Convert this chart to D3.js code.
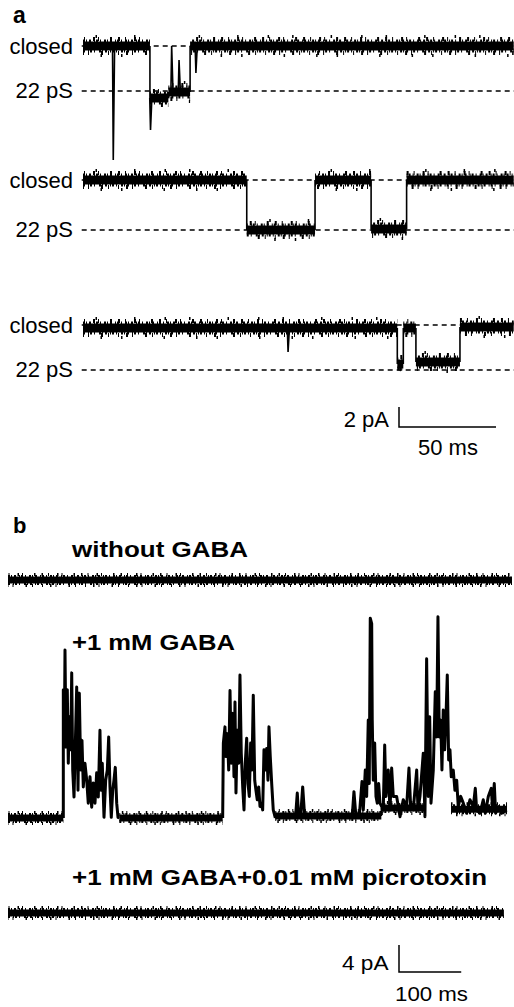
<!DOCTYPE html>
<html>
<head>
<meta charset="utf-8">
<script src="https://cdn.jsdelivr.net/npm/d3@7"></script>
<style>
  body { margin: 0; background: #fff; }
  svg { display: block; font-family: "Liberation Sans", Arial, sans-serif; }
</style>
</head>
<body>
<svg id="chart" width="514" height="1007"></svg>
<script>
// ---- panel a: single-channel records, time in ms, current in pA (closed = 0)
const aLevelLabels = ["closed", "22 pS"];
const aClosedLevel = 0;
const aOpenLevels = [-4.5, -5.0, -4.5];          // the 22 pS line of each record
const aSegments = [                              // [start ms, end ms, level pA]
  [[0, 34.5, 0], [34.5, 44, -5.2], [44, 55.2, -4.6], [55.2, 222, 0]],
  [[0, 84.4, 0], [84.4, 119.6, -5.0], [119.6, 148.5, 0], [148.5, 166.8, -4.9], [166.8, 222, 0]],
  [[0, 162, -0.3], [162, 165.1, -3.9], [165.1, 171.6, -0.3], [171.6, 194.3, -3.7], [194.3, 222, -0.2]]
];
const aSpikes = [                                // [time ms, from pA, to pA]
  [[15.6, 0, -11.4], [34.8, -5.2, -8.4], [45.7, -4.6, 0], [49.5, -4.6, -1.4], [58.2, 0, -2.7]],
  [],
  [[105.7, -0.3, -2.7], [163.5, -3.9, -4.6]]
];
const aScaleBar = { pA: 2, ms: 50 };

// ---- panel b: whole-patch records, time in ms, current in pA (baseline = 0)
const bLabels = ["without GABA", "+1 mM GABA", "+1 mM GABA+0.01 mM picrotoxin"];
const bSegments = [
  [[0, 810, 0]],
  [[0, 88.9, 0], [178.9, 345, 0], [429.6, 600, 0.3], [600, 670, 1.5], [712, 802, 1.3]],
  [[0, 797, 0]]
];
const burst1 = [[88.9,0],[88.9,19.0],[90.5,11.1],[91.6,24.9],[93.2,10.5],[95.3,19.0],[96.9,8.1],[98.5,15.0],[100.8,10.1],[102.4,21.5],[104.0,7.1],[106.1,3.1],[107.7,9.0],[110.4,19.4],[112.5,4.1],[114.6,18.5],[116.8,7.1],[118.9,11.5],[121.0,4.6],[123.7,8.1],[126.5,5.6],[129.0,2.2],[131.8,6.1],[134.5,1.6],[137.1,5.2],[139.8,2.2],[142.5,6.7],[145.1,3.1],[147.8,13.0],[149.5,4.1],[151.5,8.1],[154.3,0.1],[157.0,5.6],[159.6,7.1],[161.8,12.0],[163.9,4.6],[166.0,0.1],[168.3,4.1],[170.3,5.6],[172.4,7.5],[174.7,2.2],[176.8,0.1],[178.9,0]];
const burst2 = [[345.0,0],[346.1,11.1],[348.7,13.5],[350.3,9.1],[352.5,12.5],[354.7,7.1],[356.8,18.9],[358.9,8.1],[361.1,15.5],[363.2,6.1],[364.8,17.2],[366.4,3.7],[368.5,13.0],[370.7,8.1],[372.8,21.2],[374.9,9.6],[377.2,4.6],[379.3,1.2],[381.3,8.1],[383.6,11.8],[385.7,5.1],[387.8,3.2],[390.0,11.1],[392.1,7.1],[394.2,18.2],[396.5,5.6],[398.5,4.1],[400.6,2.7],[402.9,4.6],[405.0,1.7],[407.1,2.2],[409.3,1.2],[411.4,10.1],[413.5,7.1],[415.7,10.3],[417.8,5.6],[419.4,13.5],[421.5,9.1],[423.8,5.1],[426.3,1.2],[429.6,0]];
const burst2b = [[462,0],[464.9,3.7],[467.2,0.2],[470.5,0.5],[473.6,4.6],[476.8,0.2],[480,0]];
const burst3 = [[553,0],[556.0,3.9],[559.2,0.2],[565,0.8],[568.9,5.4],[571.0,1.2],[574.2,7.1],[576.4,3.2],[579.0,14.5],[580.6,5.1],[582.2,29.6],[584.5,28.8],[585.4,14.5],[587.0,5.6],[589.3,11.1],[591.4,3.2],[593.5,2.2],[595.7,5.1],[597.8,2.2],[603.1,1.2],[605.4,10.8],[607.4,3.2],[611.1,7.1],[613.9,1.2],[616.6,7.4],[619.2,3.2],[624.6,3.2],[630.0,0.2],[635.2,2.7],[640.7,1.7],[644.4,7.4],[647.1,1.7],[651.3,1.2],[656.8,7.1],[658.9,1.2],[662.1,3.2],[667.4,9.6],[670.1,0.2],[672.8,23.6],[675.4,3.2],[677.7,15.0],[679.8,2.2],[683.5,7.1],[686.7,18.7],[688.9,12.0],[691.0,29.8],[693.1,12.0],[695.4,14.5],[697.4,7.1],[699.5,16.0],[701.8,10.1],[703.9,15.0],[706.0,21.2],[708.2,8.6],[710.3,10.1],[712.4,6.1],[715.6,7.1],[718.3,4.1],[721.1,5.6],[723.6,1.7],[727.5,3.2],[731.7,2.2],[737.1,0.7],[742.4,2.7],[747.8,1.7],[751.0,4.4],[753.2,1.2],[758.5,0.7],[763.8,2.7],[767.1,0.7],[771.9,3.2],[776.7,4.4],[778.9,1.2],[781.5,5.1],[783.7,0.7],[787.9,1.7],[793.4,0.7],[801.4,1.2]];
const bBursts = [[], [burst1, burst2, burst2b, burst3], []];
const bScaleBar = { pA: 4, ms: 100 };

// layout
const aRowY = [46, 180, 325];      // pixel y of the closed level in each record
const bRowY = [580, 818, 913];     // pixel y of the baseline in each record
const bLabelY = [556.5, 650, 885];
const bLabelW = [176, 163, 415];

const svg = d3.select("#chart");

// noise texture: a solid core plus irregular dashed fringes
const aNoise = { core: 9, ticks: [
  { dy: -4.5, w: 4, dash: "2 1 1 2 2 3 1 1 2 2 1 3" },
  { dy: 4.5, w: 4, dash: "1 2 2 3 1 1 2 2 1 4 2 1" },
  { dy: -7, w: 4, dash: "2 5 1 8 2 3 1 11 2 6" },
  { dy: 7, w: 4, dash: "1 7 2 4 1 12 2 5 1 9" },
  { dy: -9.5, w: 3, dash: "1.5 23 1.5 37 1.5 29" },
  { dy: 9.5, w: 3, dash: "1.5 31 1.5 19 1.5 41" }
]};
const bNoise = { core: 7, ticks: [
  { dy: -3.5, w: 3, dash: "2 1 1 2 2 3 1 1 2 2 1 3" },
  { dy: 3.5, w: 3, dash: "1 2 2 3 1 1 2 2 1 4 2 1" },
  { dy: -5.5, w: 3, dash: "1.5 5 1 8 1.5 3 1 11 1.5 6" },
  { dy: 5.5, w: 3, dash: "1 7 1.5 4 1 12 1.5 5 1 9" }
]};

function drawBand(g, x0, x1, yy, noise, k) {
  g.append("line")
    .attr("x1", x0).attr("x2", x1).attr("y1", yy).attr("y2", yy)
    .attr("stroke", "#000").attr("stroke-width", noise.core);
  noise.ticks.forEach((t, i) => {
    g.append("line")
      .attr("x1", x0).attr("x2", x1).attr("y1", yy + t.dy).attr("y2", yy + t.dy)
      .attr("stroke", "#000").attr("stroke-width", t.w)
      .attr("stroke-dasharray", t.dash)
      .attr("stroke-dashoffset", (k * 7 + i * 3) % 17);
  });
}

function drawTrace(g, segs, x, y, noise) {
  segs.forEach((s, i) => {
    drawBand(g, x(s[0]), x(s[1]), y(s[2]), noise, i);
    const next = segs[i + 1];
    if (next && next[0] === s[1]) {
      g.append("line")
        .attr("x1", x(s[1])).attr("x2", x(s[1]))
        .attr("y1", y(s[2])).attr("y2", y(next[2]))
        .attr("stroke", "#000").attr("stroke-width", 1.6);
    }
  });
}

// ---------------- panel a
const aX = d3.scaleLinear().domain([0, 222]).range([83, 513.7]);

svg.append("text").attr("x", 13).attr("y", 23)
  .attr("font-size", 23).attr("font-weight", "bold").text("a");

aRowY.forEach((rowY, r) => {
  const y = d3.scaleLinear().domain([0, -1]).range([rowY, rowY + 10]);
  const g = svg.append("g");
  const levels = [aClosedLevel, aOpenLevels[r]];

  levels.forEach((lv, i) => {
    g.append("line")
      .attr("x1", 81.7).attr("x2", 514).attr("y1", y(lv)).attr("y2", y(lv))
      .attr("stroke", "#000").attr("stroke-width", 1.3)
      .attr("stroke-dasharray", "5 4");
    g.append("text")
      .attr("x", 73).attr("y", y(lv)).attr("dy", i === 0 ? "0.36em" : "0.3em")
      .attr("text-anchor", "end").attr("font-size", 22)
      .text(aLevelLabels[i]);
  });

  drawTrace(g, aSegments[r], aX, y, aNoise);

  aSpikes[r].forEach(s => {
    g.append("path")
      .attr("d", d3.line()([[aX(s[0] - 0.4), y(s[1])], [aX(s[0]), y(s[2])], [aX(s[0] + 0.7), y(s[1])]]))
      .attr("fill", "none").attr("stroke", "#000").attr("stroke-width", 1.6);
  });
});

// scale bar a
{
  const y = d3.scaleLinear().domain([0, 1]).range([0, 10]);
  const ox = 399, oy = 427;
  const len = aX(aScaleBar.ms) - aX(0);
  svg.append("path")
    .attr("d", `M${ox},${oy - y(aScaleBar.pA)}V${oy}H${ox + len}`)
    .attr("fill", "none").attr("stroke", "#000").attr("stroke-width", 1.5);
  svg.append("text").attr("x", 389).attr("y", 426.5).attr("text-anchor", "end")
    .attr("font-size", 22).text(aScaleBar.pA + " pA");
  svg.append("text").attr("x", 418).attr("y", 455)
    .attr("font-size", 22).text(aScaleBar.ms + " ms");
}

// ---------------- panel b
const bX = d3.scaleLinear().domain([0, 810]).range([8, 512]);

svg.append("text").attr("x", 13).attr("y", 532.5)
  .attr("font-size", 22).attr("font-weight", "bold").text("b");

bRowY.forEach((rowY, r) => {
  const y = d3.scaleLinear().domain([0, 1]).range([rowY, rowY - 6.75]);
  const g = svg.append("g");

  g.append("text")
    .attr("x", 72).attr("y", bLabelY[r])
    .attr("font-size", 21.5).attr("font-weight", "bold")
    .attr("textLength", bLabelW[r]).attr("lengthAdjust", "spacingAndGlyphs")
    .text(bLabels[r]);

  drawTrace(g, bSegments[r], bX, y, bNoise);

  const line = d3.line().x(d => bX(d[0])).y(d => y(d[1]));
  bBursts[r].forEach(b => {
    g.append("path").attr("d", line(b))
      .attr("fill", "none").attr("stroke", "#000")
      .attr("stroke-width", 3).attr("stroke-linejoin", "round");
  });
});

// scale bar b
{
  const ox = 399, oy = 972;
  const vlen = 6.75 * bScaleBar.pA;
  const len = bX(bScaleBar.ms) - bX(0);
  svg.append("path")
    .attr("d", `M${ox},${oy - vlen}V${oy}H${ox + len}`)
    .attr("fill", "none").attr("stroke", "#000").attr("stroke-width", 1.5);
  svg.append("text").attr("x", 388.5).attr("y", 970).attr("text-anchor", "end")
    .attr("font-size", 20).attr("textLength", 46.5).attr("lengthAdjust", "spacingAndGlyphs")
    .text(bScaleBar.pA + " pA");
  svg.append("text").attr("x", 395).attr("y", 1000.5)
    .attr("font-size", 20).attr("textLength", 73).attr("lengthAdjust", "spacingAndGlyphs")
    .text(bScaleBar.ms + " ms");
}
</script>
</body>
</html>
